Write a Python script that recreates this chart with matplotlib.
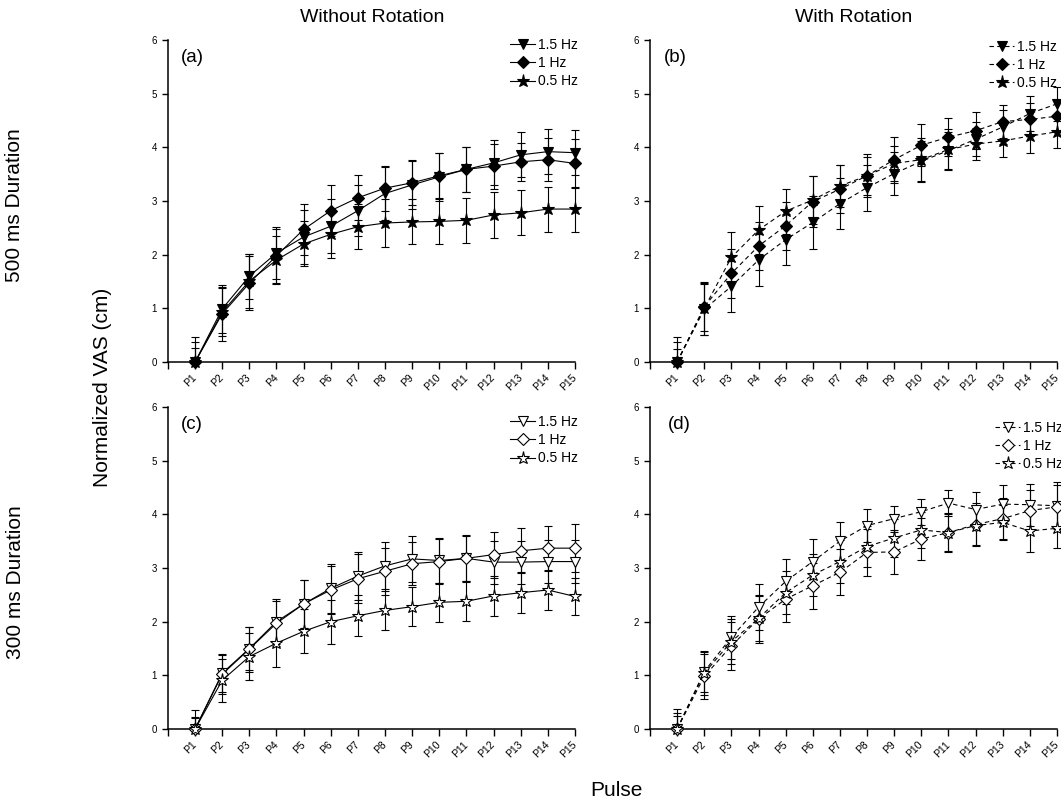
import matplotlib
matplotlib.use('Agg')
import matplotlib.pyplot as plt
import numpy as np

plt.rcParams['font.family'] = ['Liberation Sans', 'DejaVu Sans']

pulses = ['P1', 'P2', 'P3', 'P4', 'P5', 'P6', 'P7', 'P8',
          'P9', 'P10', 'P11', 'P12', 'P13', 'P14', 'P15']
freqs = ['1.5 Hz', '1 Hz', '0.5 Hz']

# (a) 500 ms, without rotation
a_15 = [0, 0.99, 1.60, 2.03, 2.33, 2.53, 2.82, 3.14, 3.30, 3.45, 3.59, 3.71, 3.86, 3.92, 3.90]
a_10 = [0, 0.90, 1.47, 1.98, 2.47, 2.82, 3.06, 3.24, 3.34, 3.47, 3.59, 3.65, 3.73, 3.77, 3.70]
a_05 = [0, 0.93, 1.51, 1.90, 2.20, 2.38, 2.52, 2.59, 2.61, 2.62, 2.64, 2.74, 2.78, 2.85, 2.85]
a_15_err = [0.27, 0.45, 0.42, 0.48, 0.50, 0.50, 0.48, 0.50, 0.45, 0.45, 0.42, 0.42, 0.42, 0.42, 0.42]
a_10_err = [0.37, 0.50, 0.50, 0.50, 0.47, 0.47, 0.42, 0.42, 0.42, 0.42, 0.42, 0.42, 0.35, 0.40, 0.45]
a_05_err = [0.47, 0.45, 0.50, 0.45, 0.42, 0.45, 0.42, 0.45, 0.42, 0.42, 0.42, 0.42, 0.42, 0.42, 0.42]

# (b) 500 ms, with rotation
b_15 = [0, 0.98, 1.41, 1.90, 2.28, 2.60, 2.95, 3.25, 3.51, 3.74, 3.94, 4.15, 4.38, 4.63, 4.81]
b_10 = [0, 1.03, 1.65, 2.16, 2.54, 2.99, 3.22, 3.47, 3.77, 4.04, 4.19, 4.31, 4.48, 4.52, 4.58]
b_05 = [0, 1.00, 1.95, 2.46, 2.81, 3.02, 3.28, 3.47, 3.70, 3.77, 3.96, 4.06, 4.12, 4.21, 4.29]
b_15_err = [0.25, 0.47, 0.48, 0.49, 0.48, 0.49, 0.48, 0.43, 0.40, 0.38, 0.35, 0.32, 0.32, 0.33, 0.31]
b_10_err = [0.37, 0.45, 0.45, 0.45, 0.45, 0.47, 0.45, 0.40, 0.43, 0.39, 0.35, 0.34, 0.30, 0.30, 0.30]
b_05_err = [0.47, 0.50, 0.47, 0.44, 0.42, 0.45, 0.40, 0.35, 0.33, 0.40, 0.38, 0.30, 0.30, 0.31, 0.31]

# (c) 300 ms, without rotation
c_15 = [0, 1.04, 1.50, 2.00, 2.33, 2.62, 2.85, 3.04, 3.17, 3.14, 3.18, 3.11, 3.11, 3.12, 3.12]
c_10 = [0, 1.02, 1.49, 1.97, 2.33, 2.59, 2.80, 2.94, 3.08, 3.12, 3.18, 3.25, 3.32, 3.37, 3.37]
c_05 = [0, 0.91, 1.35, 1.60, 1.82, 2.00, 2.11, 2.21, 2.28, 2.36, 2.38, 2.48, 2.54, 2.59, 2.47]
c_15_err = [0.20, 0.35, 0.40, 0.42, 0.45, 0.45, 0.45, 0.44, 0.43, 0.42, 0.42, 0.40, 0.40, 0.40, 0.40]
c_10_err = [0.22, 0.36, 0.42, 0.42, 0.45, 0.45, 0.46, 0.44, 0.40, 0.42, 0.43, 0.43, 0.42, 0.42, 0.45]
c_05_err = [0.35, 0.40, 0.44, 0.44, 0.41, 0.41, 0.38, 0.36, 0.36, 0.36, 0.36, 0.37, 0.38, 0.37, 0.35]

# (d) 300 ms, with rotation
d_15 = [0, 1.07, 1.71, 2.27, 2.75, 3.12, 3.50, 3.79, 3.92, 4.05, 4.21, 4.09, 4.19, 4.18, 4.16]
d_10 = [0, 0.98, 1.55, 2.05, 2.42, 2.67, 2.92, 3.29, 3.30, 3.54, 3.66, 3.81, 3.92, 4.07, 4.14]
d_05 = [0, 1.04, 1.63, 2.06, 2.54, 2.87, 3.12, 3.40, 3.56, 3.71, 3.66, 3.79, 3.85, 3.69, 3.74]
d_15_err = [0.30, 0.38, 0.40, 0.43, 0.42, 0.42, 0.36, 0.31, 0.24, 0.24, 0.24, 0.33, 0.35, 0.39, 0.44]
d_10_err = [0.25, 0.42, 0.45, 0.44, 0.42, 0.43, 0.43, 0.43, 0.41, 0.39, 0.37, 0.40, 0.38, 0.38, 0.40]
d_05_err = [0.38, 0.40, 0.42, 0.42, 0.40, 0.40, 0.40, 0.38, 0.35, 0.33, 0.35, 0.37, 0.33, 0.39, 0.36]

markers = ['v', 'D', '*']
msizes = [7.5, 6, 9.5]

panels = [
    ('(a)', [a_15, a_10, a_05], [a_15_err, a_10_err, a_05_err], False, '-', [0.1583, 0.5503, 0.3836, 0.4], (1.007, 1.006), 0.032),
    ('(b)', [b_15, b_10, b_05], [b_15_err, b_10_err, b_05_err], False, (0, (4, 3)), [0.6126, 0.5503, 0.3836, 0.4], (1.0, 1.0), 0.034),
    ('(c)', [c_15, c_10, c_05], [c_15_err, c_10_err, c_05_err], True, '-', [0.1583, 0.0944, 0.3836, 0.4], (1.007, 0.975), 0.032),
    ('(d)', [d_15, d_10, d_05], [d_15_err, d_10_err, d_05_err], True, (0, (4, 3)), [0.6126, 0.0944, 0.3836, 0.4], (1.015, 0.957), 0.044),
]

fig = plt.figure(figsize=(10.61, 8.05), dpi=100)
x = np.arange(1, len(pulses) + 1)

for tag, series, errs, hollow, ls, pos, leg_anchor, tag_x in panels:
    ax = fig.add_axes(pos)
    for i in range(3):
        y = np.array(series[i])
        e = np.array(errs[i])
        # lower whisker stops at the axis (P1 sits on zero)
        ax.errorbar(x, y, yerr=[np.minimum(e, y), e], fmt='none', ecolor='black',
                    elinewidth=0.8, capsize=3, capthick=0.8, zorder=2, clip_on=False)
        ax.plot(x, y, color='black', lw=0.8, ls=ls, marker=markers[i], ms=msizes[i],
                mfc='white' if hollow else 'black', mec='black', mew=0.8,
                label=freqs[i], clip_on=False, zorder=3)
    ax.set_xlim(0, 15)
    ax.set_ylim(0, 6)
    ax.set_xticks(np.arange(0, 16))
    ax.set_xticklabels([''] + pulses, rotation=45, ha='right', va='center',
                       rotation_mode='anchor', fontsize=7.5)
    ax.set_yticks(range(0, 7))
    ax.tick_params(axis='y', labelsize=7, length=4, width=1, pad=4)
    ax.tick_params(axis='x', length=5, width=1, pad=5)
    for s in ['top', 'right']:
        ax.spines[s].set_visible(False)
    for s in ['left', 'bottom']:
        ax.spines[s].set_linewidth(1.1)
    ax.text(tag_x, 0.947, tag, transform=ax.transAxes, fontsize=13.5, ha='left', va='center')
    ax.legend(loc='upper right', bbox_to_anchor=leg_anchor, frameon=False, fontsize=10,
              handlelength=1.8, handletextpad=0.2, labelspacing=0.3, borderpad=0,
              borderaxespad=0)

fig.text(372 / 1061, 1 - 17 / 805, 'Without Rotation', fontsize=14, ha='center', va='center')
fig.text(854 / 1061, 1 - 17 / 805, 'With Rotation', fontsize=14, ha='center', va='center')
fig.text(15 / 1061, 1 - 205 / 805, '500 ms Duration', fontsize=15, rotation=90, ha='center', va='center')
fig.text(16 / 1061, 1 - 582 / 805, '300 ms Duration', fontsize=15, rotation=90, ha='center', va='center')
fig.text(103 / 1061, 1 - 387 / 805, 'Normalized VAS (cm)', fontsize=15, rotation=90, ha='center', va='center')
fig.text(616 / 1061, 1 - 790 / 805, 'Pulse', fontsize=15, ha='center', va='center')

fig.savefig('out.png', dpi=100)
